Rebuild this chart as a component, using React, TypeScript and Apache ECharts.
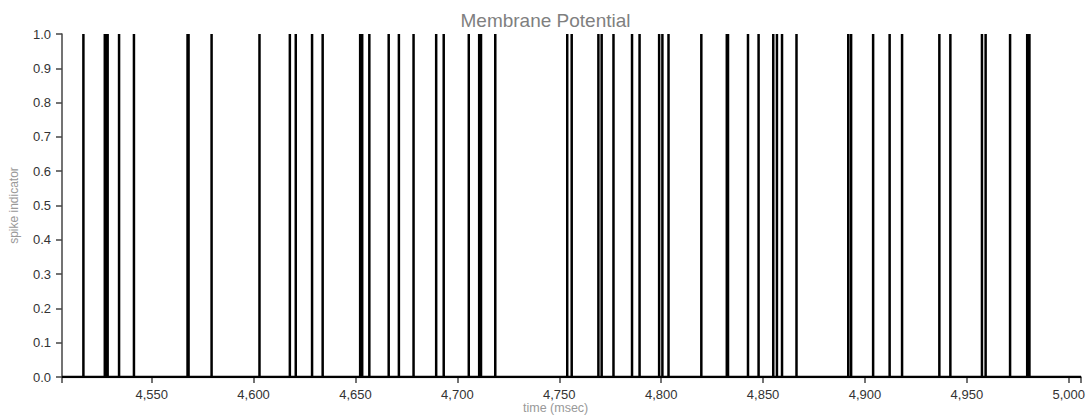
import React, { useEffect, useRef } from "react";
import * as echarts from "echarts";

const xMin = 4506;
const xMax = 5006;
const xTicks = [4550, 4600, 4650, 4700, 4750, 4800, 4850, 4900, 4950, 5000];
const spikeTimes = [
  4516.5, 4527.0, 4527.8, 4528.4, 4534.0, 4541.3, 4567.6, 4568.1, 4579.4, 4602.9,
  4617.8, 4620.7, 4628.7, 4633.9, 4652.3, 4653.3, 4656.8, 4666.3, 4671.3, 4678.5,
  4689.6, 4693.3, 4705.6, 4710.7, 4711.6, 4718.6, 4753.9, 4756.1, 4769.2, 4770.8,
  4776.6, 4785.7, 4789.4, 4799.0, 4800.6, 4803.6, 4819.7, 4832.2,
  4832.8, 4842.6, 4847.8, 4855.0, 4856.8, 4859.3, 4866.4, 4891.8, 4893.2,
  4904.0, 4912.1, 4918.2, 4936.5, 4941.9, 4957.4, 4959.2, 4971.2,
  4979.6, 4980.7,
];

export default function App() {
  const ref = useRef<HTMLDivElement>(null);
  useEffect(() => {
    document.body.style.margin = "0";
    if (!ref.current) return;
    const chart = echarts.init(ref.current, null, { renderer: "svg" });
    const data: number[][] = [[xMin, 0]];
    spikeTimes.forEach((t) => {
      data.push([t, 0], [t, 1], [t, 0]);
    });
    data.push([xMax, 0]);
    const font = "Liberation Sans, Arial, Helvetica, sans-serif";
    chart.setOption({
      animation: false,
      title: {
        text: "Membrane Potential",
        left: "center",
        top: 6,
        textStyle: { fontSize: 19, fontWeight: "normal", color: "#7f7f7f", fontFamily: font },
      },
      grid: { left: 62, right: 10, top: 34, bottom: 40, containLabel: false },
      xAxis: {
        type: "value",
        min: xMin,
        max: xMax,
        axisLine: { show: true, lineStyle: { color: "#444", width: 1.5 } },
        axisTick: {
          show: true,
          length: 6,
          customValues: [xMin, ...xTicks, xMax],
          lineStyle: { color: "#444", width: 1.5 },
        },
        axisLabel: {
          customValues: xTicks,
          margin: 11,
          fontSize: 13,
          color: "#333",
          fontFamily: font,
          formatter: (v: number) => v.toLocaleString("en-US"),
        },
        splitLine: { show: false },
      },
      yAxis: {
        type: "value",
        min: 0,
        max: 1,
        interval: 0.1,
        name: "spike indicator",
        nameLocation: "middle",
        nameGap: 42,
        nameTextStyle: { fontSize: 12, color: "#999", fontFamily: font },
        axisLine: { show: true, lineStyle: { color: "#444", width: 1.5 } },
        axisTick: { show: true, length: 6, lineStyle: { color: "#444", width: 1.5 } },
        axisLabel: {
          margin: 11,
          fontSize: 13,
          color: "#333",
          fontFamily: font,
          formatter: (v: number) => v.toFixed(1),
        },
        splitLine: { show: false },
      },
      graphic: [
        {
          type: "text",
          left: 557 - 34,
          top: 401,
          style: { text: "time (msec)", fontSize: 12.5, fill: "#999", fontFamily: font },
        },
      ],
      series: [
        {
          type: "line",
          data,
          showSymbol: false,
          symbol: "none",
          lineStyle: { color: "#000", width: 2.5, join: "bevel" },
          clip: true,
        },
      ],
    });
    return () => chart.dispose();
  }, []);
  return <div ref={ref} style={{ width: 1091, height: 417 }} />;
}
